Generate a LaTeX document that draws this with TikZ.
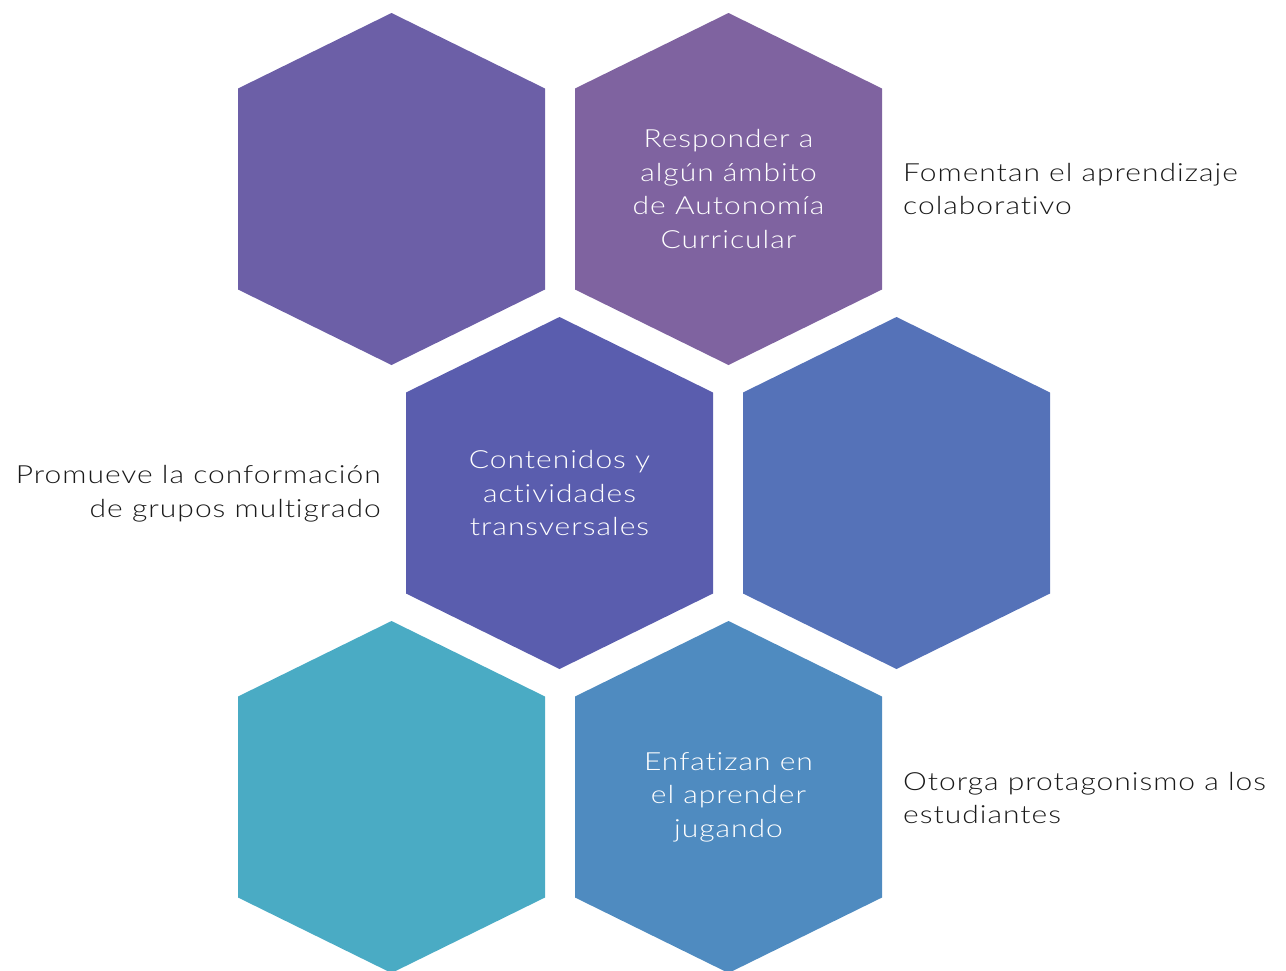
\documentclass[tikz,border=0pt]{standalone}
\usepackage{fontspec}
\setmainfont{Lato}[UprightFont={* Light}, FakeStretch=1.2, LetterSpace=4, RawFeature={-liga;-clig;-calt;-dlig}]
\newcommand\tIbreak{t\kern0.6pt i}
\definecolor{hexA}{HTML}{6C5FA7}
\definecolor{hexB}{HTML}{7F63A0}
\definecolor{hexC}{HTML}{5A5DAE}
\definecolor{hexD}{HTML}{5572B8}
\definecolor{hexE}{HTML}{4AABC4}
\definecolor{hexF}{HTML}{4F8BC0}
\definecolor{labelcol}{HTML}{1A1A1A}
\tikzset{
  hex/.pic={\fill[pic actions] (0,-176) -- (153.5,-100.5) -- (153.5,100.5) -- (0,176) -- (-153.5,100.5) -- (-153.5,-100.5) -- cycle;},
  hextext/.style={text=white, align=center, font=\fontsize{25}{33.5}\selectfont, inner sep=0pt},
  sidetext/.style={text=labelcol, font=\fontsize{25}{33.5}\selectfont, inner sep=0pt},
}
\begin{document}
\begin{tikzpicture}[x=1pt,y=-1pt]
\useasboundingbox (0,0) rectangle (1286,970);
\pic[fill=hexA] (h1) at (391.5,189) {hex};
\pic[fill=hexB] (h2) at (728.5,189) {hex};
\pic[fill=hexC] (h3) at (559.5,493) {hex};
\pic[fill=hexD] (h4) at (896.5,493) {hex};
\pic[fill=hexE] (h5) at (391.5,797) {hex};
\pic[fill=hexF] (h6) at (728.5,797) {hex};
\node[hextext] (t2) at (728.5,189) {Responder a\\algún ámbito\\de Autonomía\\Curricular};
\node[hextext] (t3) at (559.5,493) {Contenidos y\\ac\tIbreak vidades\\transversales};
\node[hextext] (t6) at (728.5,797) {Enfa\tIbreak zan en\\el aprender\\jugando};
\node[sidetext, align=left, anchor=west] (l1) at (903,189) {Fomentan el aprendizaje\\colabora\tIbreak vo};
\node[sidetext, align=right, anchor=east] (l3) at (381,493.5) {Promueve la conformación\\de grupos mul\tIbreak grado};
\node[sidetext, align=left, anchor=west] (l6) at (903,798) {Otorga protagonismo a los\\estudiantes};
\end{tikzpicture}
\end{document}
